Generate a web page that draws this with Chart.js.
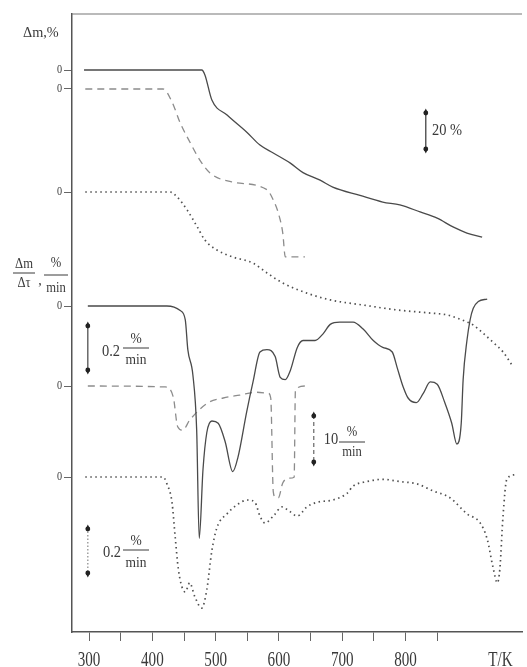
<!DOCTYPE html>
<html>
<head>
<meta charset="utf-8">
<script src="https://cdn.jsdelivr.net/npm/chart.js@4.4.1/dist/chart.umd.min.js"></script>
<style>
  body { margin: 0; background: #fff; }
</style>
</head>
<body>
<canvas id="tgChart" width="527" height="667"></canvas>
<script>
// TG curves: temperature (K) and mass change (%)
const tgA_T  = [292, 478, 483, 494, 518, 550, 570, 591, 618, 638, 665, 685, 728, 764, 791, 823, 850, 875, 897, 921];
const tgA_dm = [0, 0, -2.6, -15.8, -23.7, -33, -39.5, -43.7, -49, -54, -58, -61.6, -66, -69.5, -71, -74.7, -78, -82.6, -85.8, -88];

const tgB_T  = [294, 417, 431, 444, 460, 475, 491, 527, 581, 591, 599, 606, 610, 641];
const tgB_dm = [0, 0, -6.8, -17.9, -28.4, -37.4, -44.2, -49, -53, -58.4, -65.3, -75.8, -88.4, -88.4];

const tgC_T  = [294, 428, 439, 455, 471, 483, 502, 527, 559, 581, 606, 644, 681, 733, 787, 839, 866, 881, 897, 907, 922, 938, 954, 968];
const tgC_dm = [0, 0, -2.6, -9.5, -18.4, -25.3, -30.5, -34.2, -37.4, -42.6, -47.9, -53.2, -56.8, -59.5, -62.1, -63.7, -64.7, -66.3, -68.4, -70, -74.2, -79, -84.2, -91];

// DTG curves: temperature (K) and rate (%/min)
const dtgA_T = [298, 423, 444, 452, 456, 464, 470, 474, 480, 486, 494, 504, 515, 527, 535, 549, 559, 570, 581, 594,
                602, 610, 618, 629, 638, 657, 670, 681, 696, 717, 733, 749, 764, 779, 787, 796, 804, 817, 828, 839,
                850, 862, 873, 881, 888, 891, 897, 902, 907, 915, 929];
const dtgA_v = [0, 0, -0.02, -0.06, -0.19, -0.3, -0.54, -1.01, -0.71, -0.55, -0.5, -0.51, -0.59, -0.72, -0.66, -0.46, -0.33, -0.2, -0.19, -0.22,
                -0.31, -0.32, -0.28, -0.18, -0.15, -0.15, -0.12, -0.08, -0.07, -0.07, -0.1, -0.15, -0.18, -0.2, -0.27, -0.35, -0.4, -0.42, -0.38, -0.33,
                -0.34, -0.42, -0.51, -0.6, -0.51, -0.32, -0.15, -0.06, -0.01, 0.02, 0.03];

const dtgB_T = [298, 420, 433, 440, 448, 459, 488, 512, 538, 565, 583, 587, 591, 594, 599, 606, 617, 624, 626, 641];
const dtgB_v = [0, -0.2, -2.3, -8.5, -9.2, -7.1, -3.5, -2.5, -1.9, -1.3, -1.5, -2.5, -22, -23.1, -23.3, -20.2, -19.2, -19, -0.8, 0];

const dtgC_T = [294, 417, 423, 431, 436, 441, 447, 452, 459, 467, 478, 486, 494, 502, 518, 534, 551, 562, 570, 578,
                591, 605, 617, 629, 644, 660, 685, 708, 717, 739, 764, 791, 818, 843, 870, 897, 918, 929, 938, 945,
                949, 954, 960, 973];
const dtgC_v = [0, 0, -0.03, -0.11, -0.26, -0.4, -0.48, -0.5, -0.46, -0.52, -0.57, -0.49, -0.32, -0.22, -0.16, -0.12, -0.1, -0.11, -0.17, -0.2,
                -0.17, -0.13, -0.15, -0.17, -0.13, -0.11, -0.1, -0.07, -0.04, -0.02, -0.01, -0.02, -0.03, -0.06, -0.09, -0.16, -0.2, -0.27, -0.39, -0.46,
                -0.4, -0.17, -0.01, 0.01];

const xTicks  = [300, 350, 400, 450, 500, 550, 600, 650, 700, 750, 800, 850];
const xLabels = [300, 400, 500, 600, 700, 800];

// each curve sits on its own zero line (base) with its own vertical scale (k)
const lanes = {
  tgA:  { base: 562, k: 1.9 },
  tgB:  { base: 543, k: 1.9 },
  tgC:  { base: 440, k: 1.9 },
  dtgA: { base: 326, k: 230 },
  dtgB: { base: 246, k: 4.8 },
  dtgC: { base: 155, k: 230 }
};

const serif = '"Liberation Serif", "Times New Roman", serif';
const ink = '#3a3a3a';

function place(T, v, lane) {
  return T.map((t, i) => ({ x: t, y: lane.base + v[i] * lane.k }));
}

const solid  = { borderColor: '#4a4a4a', borderWidth: 1.3 };
const dashed = { borderColor: '#8c8c8c', borderWidth: 1.3, borderDash: [7, 5] };
const dotted = { borderColor: '#505050', borderWidth: 1.7, borderDash: [1.5, 3.5] };

function series(T, v, lane, style) {
  return Object.assign({
    data: place(T, v, lane),
    pointRadius: 0,
    fill: false,
    cubicInterpolationMode: 'monotone'
  }, style);
}

function text(ctx, s, x, y, size, align, sx, baseline) {
  ctx.save();
  ctx.font = size + 'px ' + serif;
  ctx.fillStyle = ink;
  ctx.textAlign = align || 'center';
  ctx.textBaseline = baseline || 'middle';
  ctx.translate(x, y);
  ctx.scale(sx || 1, 1);
  ctx.fillText(s, 0, 0);
  ctx.restore();
}

function frac(ctx, num, den, cx, yNum, yBar, yDen, size, half) {
  text(ctx, num, cx, yNum, size, 'center', 0.9);
  ctx.save();
  ctx.strokeStyle = ink;
  ctx.lineWidth = 1;
  ctx.beginPath();
  ctx.moveTo(cx - half, yBar);
  ctx.lineTo(cx + half, yBar);
  ctx.stroke();
  ctx.restore();
  text(ctx, den, cx, yDen, size, 'center', 0.9);
}

function arrow(ctx, x, y1, y2, dash, color) {
  ctx.save();
  ctx.strokeStyle = color;
  ctx.fillStyle = '#222';
  ctx.lineWidth = 1.2;
  ctx.setLineDash(dash);
  ctx.beginPath();
  ctx.moveTo(x, y1);
  ctx.lineTo(x, y2);
  ctx.stroke();
  ctx.setLineDash([]);
  [[y1, -1], [y2, 1]].forEach(([y, d]) => {
    ctx.beginPath();
    ctx.arc(x, y - d * 1, 2.4, 0, Math.PI * 2);
    ctx.fill();
    ctx.beginPath();
    ctx.moveTo(x - 2.2, y - d * 1);
    ctx.lineTo(x, y + d * 3.5);
    ctx.lineTo(x + 2.2, y - d * 1);
    ctx.fill();
  });
  ctx.restore();
}

const decor = {
  id: 'decor',
  afterDraw(chart) {
    const ctx = chart.ctx;
    const xs = chart.scales.x, ys = chart.scales.y;
    const a = chart.chartArea;

    // top frame line
    ctx.save();
    ctx.strokeStyle = '#777';
    ctx.lineWidth = 1.2;
    ctx.beginPath();
    ctx.moveTo(a.left, a.top);
    ctx.lineTo(a.right, a.top);
    ctx.stroke();
    ctx.restore();

    // x tick labels
    xLabels.forEach(v => text(ctx, String(v), xs.getPixelForValue(v), 666, 21, 'center', 0.72, 'alphabetic'));
    text(ctx, 'T/K', xs.getPixelForValue(950), 666, 21, 'center', 0.72, 'alphabetic');

    // zero labels
    Object.values(lanes).forEach(l => text(ctx, '0', a.left - 10, ys.getPixelForValue(l.base), 12, 'right', 0.85));

    // axis titles
    text(ctx, 'Δm,%', 23, 33, 15, 'left', 0.95);
    frac(ctx, 'Δm', 'Δτ', 24, 264, 273, 283, 14, 11);
    text(ctx, ',', 40, 281, 14, 'center', 1);
    frac(ctx, '%', 'min', 56, 263, 275, 288, 14, 12);

    // scale bars
    const tgTop = ys.getPixelForValue(520);
    arrow(ctx, xs.getPixelForValue(832), tgTop, tgTop + 20 * lanes.tgA.k, [], '#333');
    text(ctx, '20 %', 432, 131, 17, 'left', 0.85);

    const upTop = ys.getPixelForValue(307);
    arrow(ctx, xs.getPixelForValue(298), upTop, upTop + 0.2 * lanes.dtgA.k, [], '#444');
    text(ctx, '0.2', 111, 352, 17, 'center', 0.85);
    frac(ctx, '%', 'min', 136, 339, 348, 360, 15, 13);

    const midTop = ys.getPixelForValue(217);
    arrow(ctx, xs.getPixelForValue(655), midTop, midTop + 10 * lanes.dtgB.k, [4, 3], '#666');
    text(ctx, '10', 331, 440, 17, 'center', 0.85);
    frac(ctx, '%', 'min', 352, 432, 442, 452, 14, 13);

    const lowTop = ys.getPixelForValue(104);
    arrow(ctx, xs.getPixelForValue(298), lowTop, lowTop + 0.2 * lanes.dtgC.k, [1.5, 2], '#888');
    text(ctx, '0.2', 112, 553, 17, 'center', 0.85);
    frac(ctx, '%', 'min', 136, 541, 550, 563, 15, 13);
  }
};

new Chart(document.getElementById('tgChart'), {
  type: 'line',
  data: {
    datasets: [
      series(tgA_T, tgA_dm, lanes.tgA, solid),
      series(tgB_T, tgB_dm, lanes.tgB, dashed),
      series(tgC_T, tgC_dm, lanes.tgC, dotted),
      series(dtgA_T, dtgA_v, lanes.dtgA, solid),
      series(dtgB_T, dtgB_v, lanes.dtgB, dashed),
      series(dtgC_T, dtgC_v, lanes.dtgC, dotted)
    ]
  },
  options: {
    responsive: false,
    animation: false,
    layout: { padding: { top: 14, right: 5, left: 0, bottom: 0 } },
    plugins: { legend: { display: false }, tooltip: { enabled: false } },
    scales: {
      x: {
        type: 'linear',
        min: 273,
        max: 984,
        afterBuildTicks: s => { s.ticks = xTicks.map(v => ({ value: v })); },
        afterFit: s => { s.height = 35; },
        ticks: { display: false },
        grid: { drawOnChartArea: false, tickLength: 9, color: '#666' },
        border: { color: '#555', width: 1.5 }
      },
      y: {
        type: 'linear',
        min: 0,
        max: 618,
        afterBuildTicks: s => { s.ticks = Object.values(lanes).map(l => ({ value: l.base })); },
        afterFit: s => { s.width = 72; },
        ticks: { display: false },
        grid: { drawOnChartArea: false, tickLength: 8, color: '#666' },
        border: { color: '#555', width: 1.5 }
      }
    }
  },
  plugins: [decor]
});
</script>
</body>
</html>
